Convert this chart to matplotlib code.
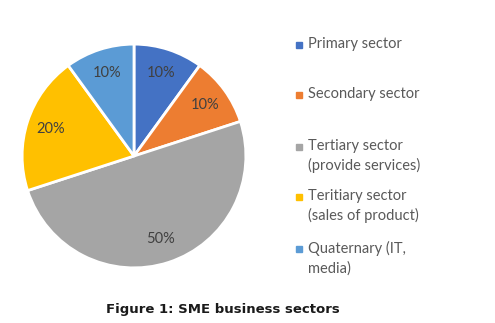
import matplotlib.pyplot as plt
from matplotlib.patches import Rectangle

# data
sectors = ['Primary sector', 'Secondary sector', 'Tertiary sector\n(provide services)',
           'Teritiary sector\n(sales of product)', 'Quaternary (IT,\nmedia)']
shares = [10, 10, 50, 20, 10]
colors = ['#4472C4', '#ED7D31', '#A5A5A5', '#FFC000', '#5B9BD5']

# legend rows (first line centre, in figure pixels from top)
legend_y = [45, 95, 147, 197, 249]

W, H = 495, 323
fig = plt.figure(figsize=(W / 100, H / 100), dpi=100)
ax = fig.add_axes([(134 - 113) / W, 1 - (156 + 113) / H, 226 / W, 226 / H])

wedges, texts, autotexts = ax.pie(
    shares, colors=colors, startangle=90, counterclock=False,
    autopct='%d%%', pctdistance=0.78,
    wedgeprops=dict(edgecolor='white', linewidth=2),
    textprops=dict(color='#404040', fontsize=10.5, family='Lato'))
ax.set_xlim(-1.01, 1.01)
ax.set_ylim(-1.01, 1.01)
ax.set_aspect('equal')

for lab, col, y in zip(sectors, colors, legend_y):
    fig.patches.append(Rectangle((296 / W, 1 - (y + 3) / H), 6 / W, 6 / H,
                                 transform=fig.transFigure, color=col))
    fig.text(308 / W, 1 - (y - 8) / H, lab, ha='left', va='top', color='#595959',
             fontsize=10.5, family='Lato', linespacing=1.45)

fig.text(106 / W, 1 - 310 / H, 'Figure 1: SME business sectors', ha='left', va='center',
         fontsize=9.5, fontweight='bold', color='#1a1a1a', family='DejaVu Sans')

fig.savefig('out.png', dpi=100)
